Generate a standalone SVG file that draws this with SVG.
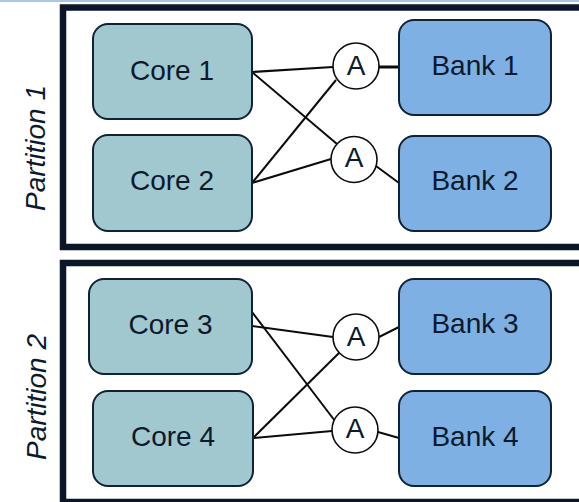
<svg xmlns="http://www.w3.org/2000/svg" width="579" height="502" viewBox="0 0 579 502">
<style>
.part{fill:#fff;stroke:#0b1628;stroke-width:6.5}
.core{fill:#a2c8cf;stroke:#0f2236;stroke-width:2}
.bank{fill:#7eb0e3;stroke:#0f2236;stroke-width:2}
.arb{fill:#fff;stroke:#0b0b0b;stroke-width:1.6}
.lbl{font-family:"Liberation Sans",Arial,sans-serif;font-size:28px;fill:#0b1a2c;text-anchor:middle}
.plbl{font-family:"Liberation Sans",Arial,sans-serif;font-size:28px;font-style:italic;fill:#0b1a2c;text-anchor:middle}
.conn line{stroke:#0b0b0b;stroke-width:2}
</style>
<rect width="579" height="502" fill="#fff"/>
<rect x="0" y="0" width="579" height="2" fill="#a9c6e6"/>
<g id="partition1">
<rect class="part" x="63" y="7.5" width="540" height="239.5"/>
<text class="plbl" transform="translate(45,148) rotate(-90)">Partition 1</text>
</g>
<g id="partition2">
<rect class="part" x="63" y="263" width="540" height="239"/>
<text class="plbl" transform="translate(46,397) rotate(-90)">Partition 2</text>
</g>
<g class="conn" id="connectors">
<line x1="252" y1="72" x2="333" y2="67"/>
<line x1="252" y1="72" x2="337" y2="144"/>
<line x1="252" y1="183" x2="336" y2="80"/>
<line x1="252" y1="183" x2="331" y2="159"/>
<line x1="379" y1="67" x2="399" y2="67" style="stroke-width:3"/>
<line x1="376" y1="166" x2="399" y2="183"/>
<line x1="252" y1="326" x2="333" y2="337"/>
<line x1="252" y1="312" x2="335" y2="421"/>
<line x1="253" y1="438" x2="340" y2="352"/>
<line x1="253" y1="438" x2="332" y2="431"/>
<line x1="379" y1="337" x2="399" y2="327"/>
<line x1="378" y1="432" x2="399" y2="438"/>
</g>
<g id="core1"><rect class="core" x="93" y="24" width="159" height="95" rx="15"/><text class="lbl" x="172" y="80">Core 1</text></g>
<g id="core2"><rect class="core" x="93" y="135" width="159" height="96" rx="15"/><text class="lbl" x="172" y="190">Core 2</text></g>
<g id="core3"><rect class="core" x="89" y="279" width="163" height="95" rx="15"/><text class="lbl" x="170.5" y="334">Core 3</text></g>
<g id="core4"><rect class="core" x="93" y="391" width="160" height="95" rx="15"/><text class="lbl" x="173" y="446">Core 4</text></g>
<g id="bank1"><rect class="bank" x="399" y="20" width="152" height="95" rx="15"/><text class="lbl" x="475" y="75">Bank 1</text></g>
<g id="bank2"><rect class="bank" x="399" y="136" width="152" height="95" rx="15"/><text class="lbl" x="475" y="190">Bank 2</text></g>
<g id="bank3"><rect class="bank" x="399" y="279" width="152" height="95" rx="15"/><text class="lbl" x="475" y="333">Bank 3</text></g>
<g id="bank4"><rect class="bank" x="399" y="391" width="152" height="95" rx="15"/><text class="lbl" x="475" y="446">Bank 4</text></g>
<g id="arb1"><circle class="arb" cx="356" cy="66" r="23"/><text class="lbl" x="356" y="75">A</text></g>
<g id="arb2"><circle class="arb" cx="354" cy="159.5" r="23"/><text class="lbl" x="354" y="167">A</text></g>
<g id="arb3"><circle class="arb" cx="356" cy="337" r="23"/><text class="lbl" x="356" y="346">A</text></g>
<g id="arb4"><circle class="arb" cx="355" cy="430" r="23"/><text class="lbl" x="355" y="438">A</text></g>
</svg>
